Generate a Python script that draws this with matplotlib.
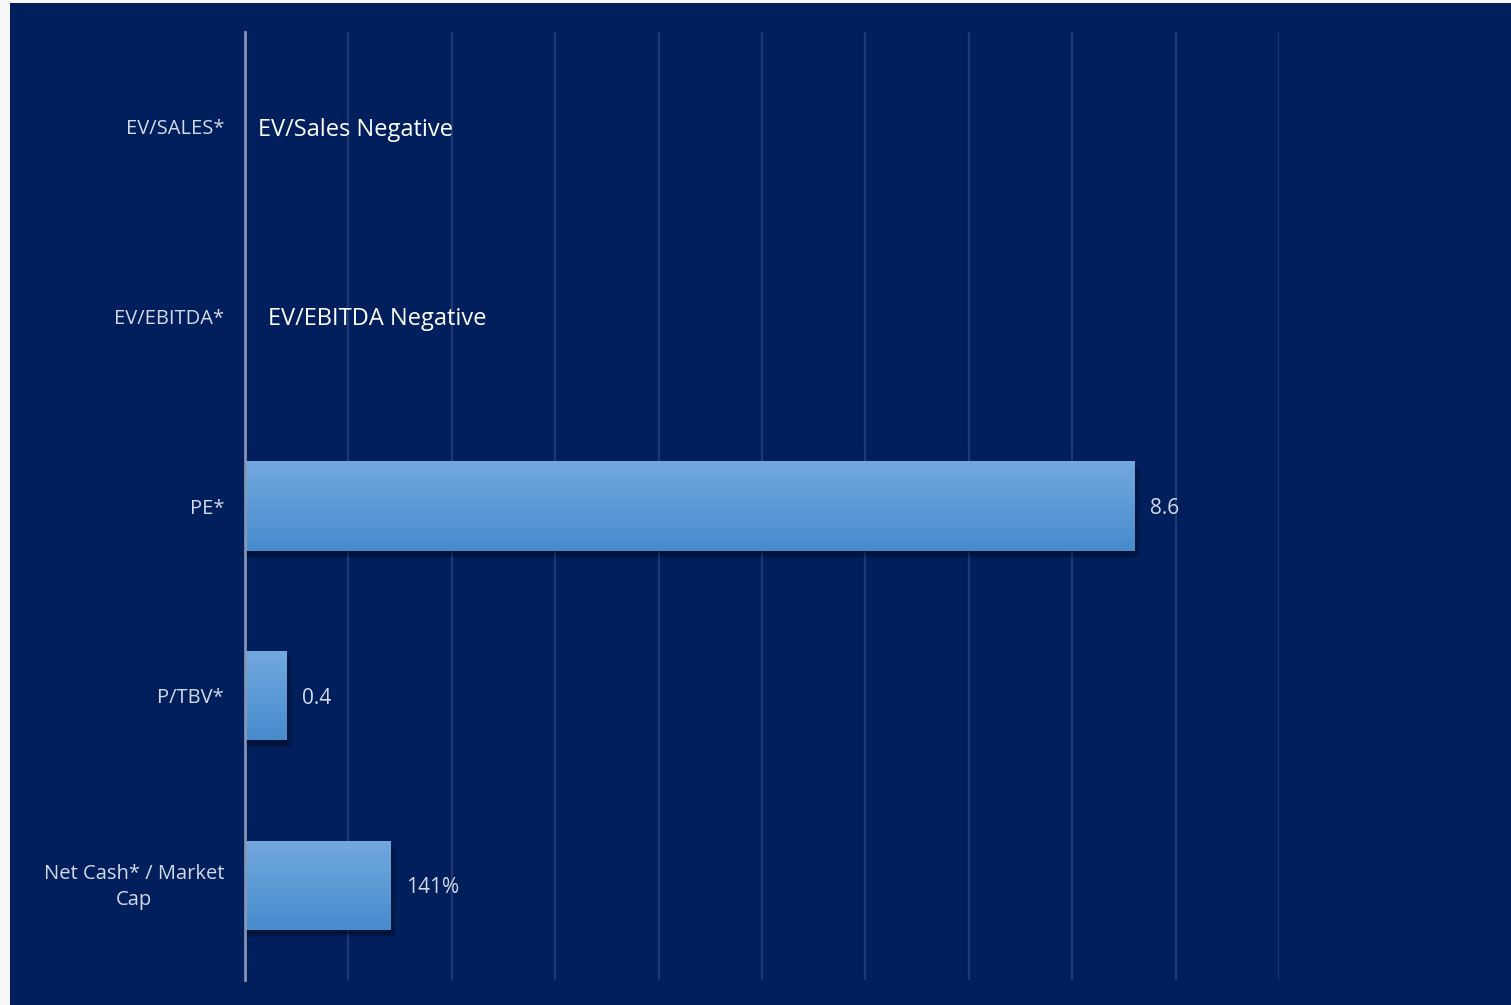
import matplotlib.pyplot as plt
import matplotlib.patches as mpatches
import matplotlib.transforms as mtransforms
import numpy as np

categories = ["EV/SALES*", "EV/EBITDA*", "PE*", "P/TBV*", "Net Cash* / Market\nCap"]
values = [None, None, 8.6, 0.4, 1.41]
value_labels = ["", "", "8.6", "0.4", "141%"]
notes = {0: "EV/Sales Negative", 1: "EV/EBITDA Negative"}
note_x = {0: 0.13, 1: 0.22}

NAVY = "#001f5c"
GRID = "#1d3872"
LABEL = "#d3d9e6"

plt.rcParams['font.family'] = ['Open Sans', 'DejaVu Sans']

W, H = 1511, 1005
fig = plt.figure(figsize=(W / 100, H / 100), dpi=100, facecolor=NAVY)
# thin white page margin on the left and top
fig.add_artist(mpatches.Rectangle((0, 0), 10 / W, 1, transform=fig.transFigure,
                                  facecolor="#f7f7f8", edgecolor="none", zorder=-5))
fig.add_artist(mpatches.Rectangle((0, 1 - 3 / H), 1, 3 / H, transform=fig.transFigure,
                                  facecolor="#f7f7f8", edgecolor="none", zorder=-5))

ax = fig.add_axes([245 / W, 1 - 980 / H, (1279 - 245) / W, (980 - 32) / H])
ax.set_facecolor(NAVY)
ax.set_xlim(0, 10)
ax.set_ylim(len(categories) - 0.5, -0.5)

ax.set_xticks(np.arange(0, 11, 1))
ax.xaxis.grid(True, color=GRID, linewidth=1.6)
ax.set_axisbelow(True)
ax.tick_params(axis='x', length=0, labelbottom=False)
ax.tick_params(axis='y', length=0, pad=15, labelsize=14.5, labelcolor=LABEL)
ax.set_yticks(range(len(categories)))
ax.set_yticklabels(categories, multialignment='center', linespacing=1.45)
# the two-line label sits a little higher
last = ax.get_yticklabels()[-1]
last.set_transform(last.get_transform() + mtransforms.ScaledTranslation(0, 4 / 100, fig.dpi_scale_trans))
for s in ["top", "right", "bottom"]:
    ax.spines[s].set_visible(False)
ax.spines["left"].set_color("#8593b3")
ax.spines["left"].set_linewidth(2)
ax.spines["left"].set_zorder(6)

# vertical gradient used to fill each bar
grad = np.linspace(0, 1, 256).reshape(-1, 1)
top_c = np.array([0x72, 0xa9, 0xdf]) / 255
bot_c = np.array([0x47, 0x8b, 0xcd]) / 255
img = top_c[None, None, :] * (1 - grad[:, :, None]) + bot_c[None, None, :] * grad[:, :, None]

bar_h = 0.47
for i, v in enumerate(values):
    if v is None:
        continue
    # soft shadow below and to the right
    for k in range(6):
        off = 0.004 + k * 0.006
        ax.add_patch(mpatches.Rectangle((0, i - bar_h / 2 + 0.02 + k * 0.004), v + off * 1.5, bar_h,
                                        facecolor="black", edgecolor="none",
                                        alpha=0.07, zorder=2))
    bars = ax.barh(i, v, height=bar_h, color="#5c9ad8", edgecolor="none", zorder=3)
    im = ax.imshow(img, extent=(0, v, i + bar_h / 2, i - bar_h / 2), aspect='auto',
                   zorder=4, interpolation='bicubic')
    im.set_clip_path(bars[0])
    # lighter strip on the bar's left edge
    ax.add_patch(mpatches.Rectangle((0, i - bar_h / 2), 0.02, bar_h, facecolor="#a9c9ec",
                                    edgecolor="none", zorder=5))
    ax.text(v + 0.15, i, value_labels[i], va='center_baseline', ha='left',
            fontsize=15, color=LABEL)

for i, t in notes.items():
    ax.text(note_x[i], i, t, va='center_baseline', ha='left', fontsize=17, color="white")

fig.savefig("out.png", dpi=100, facecolor=NAVY)
